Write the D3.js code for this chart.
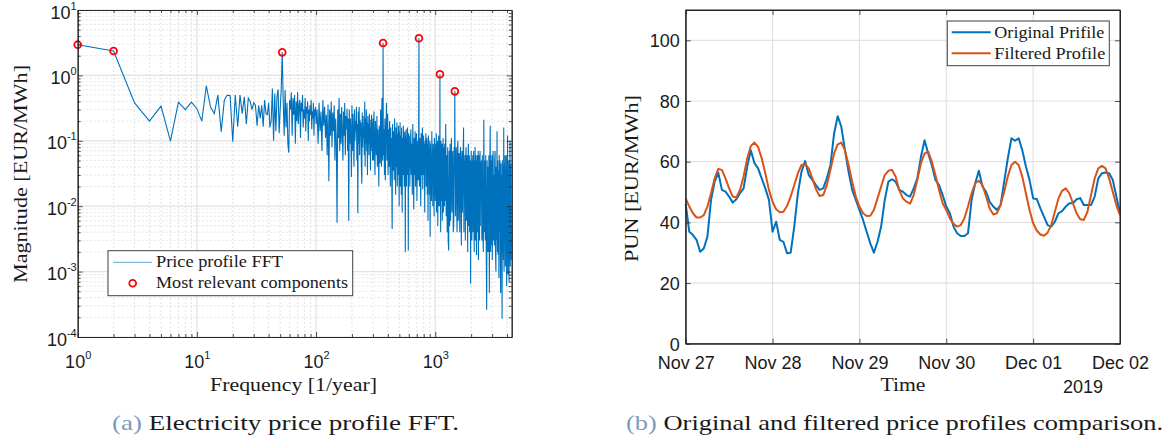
<!DOCTYPE html>
<html><head><meta charset="utf-8">
<script src="https://cdn.jsdelivr.net/npm/d3@7/dist/d3.min.js"></script>
<style>html,body{margin:0;padding:0;background:#fff;}svg{display:block;}</style>
</head><body>
<svg id="chart" width="1171" height="439"></svg>
<script>
// ---------- DATA ----------
// FFT magnitude (EUR/MWh) of the yearly hourly price profile.
// f = 1..100 (1/year), one value per integer frequency
const fftMagLow = [
2.95,2.36,0.38,0.20,0.34,0.099,0.39,0.30,0.39,0.31,
0.20,0.69,0.33,0.26,0.50,0.138,0.42,0.50,0.49,0.097,
0.50,0.164,0.50,0.26,0.47,0.18,0.45,0.40,0.30,0.38,
0.35,0.17,0.35,0.22,0.35,0.164,0.42,0.26,0.25,0.38,
0.16,0.20,0.63,0.10,0.53,0.14,0.47,0.61,0.13,0.30,
0.60,2.25,0.42,0.12,0.60,0.16,0.38,0.09,0.066,0.42,
0.30,0.55,0.12,0.45,0.25,0.50,0.09,0.40,0.20,0.55,
0.18,0.35,0.42,0.11,0.38,0.28,0.50,0.16,0.30,0.22,
0.45,0.14,0.33,0.26,0.40,0.10,0.30,0.20,0.35,0.25,
0.42,0.15,0.28,0.22,0.38,0.12,0.30,0.24,0.33,0.18];
// f = 102..300, every 2nd frequency
const fftMagBand2 = [
.30,.09,.38,.14,.28,.07,.42,.17,.33,.11,
.25,.06,.36,.024,.30,.12,.40,.08,.27,.14,
.35,.05,.22,.10,.0056,.30,.11,.45,.07,.26,
.09,.33,.13,.05,.28,.12,.38,.06,.24,.15,
.31,.07,.22,.006,.30,.09,.22,.13,.028,.35,
.07,.26,.11,.04,.30,.10,.20,.14,.33,.05,
.18,.0078,.28,.09,.33,.06,.21,.12,.19,.04,
.022,.27,.08,.24,.11,.17,.06,.40,.04,.22,
.09,.30,.07,.19,.03,.24,.10,.18,.06,.26,
.09,.21,.035,.16,.08,.25,.07,.19,.05,.22];
// f = 303..600, every 3rd frequency
const fftMagBand3 = [
.05,.28,.08,.03,.20,.10,.06,.24,.04,.15,
.09,.02,.17,.07,.045,.30,.12,.04,.45,.08,
.05,.20,.06,.15,.03,.22,.025,.11,.18,.38,
.05,.13,.26,.03,.09,.15,.04,.20,.07,.02,
.16,.05,.11,.02,.0045,.18,.06,.035,.14,.08,
.025,.22,.05,.12,.015,.16,.04,.09,.19,.02,
.07,.13,.03,.17,.06,.01,.14,.05,.19,.02,
.09,.12,.015,.16,.04,.008,.11,.06,.03,.17,
.05,.13,.02,.09,.14,.03,.002,.12,.05,.15,
.02,.08,.11,.03,.16,.04,.10,.0021,.13,.04];
// f = 606..1200, every 6th frequency
const fftMagBand6 = [
.12,.02,.07,.15,.03,.09,.015,.18,.05,.009,
.11,.03,.14,.02,.08,.13,.012,.06,.10,.025,
.16,.04,.02,.11,.05,.01,.13,.03,.08,.16,
.018,.07,.12,.03,.09,.008,.10,.04,.13,.02,
.07,.11,.015,.09,.006,.12,.03,.08,.015,.10,
.0034,.09,.02,.06,.012,.14,.03,.07,.01,.09,
.02,.08,.007,.11,.03,.06,.012,.09,.02,.13,
.008,.07,.03,.10,.005,.08,.02,.12,.01,.06,
.025,.09,.01,.07,.004,.10,.02,.06,.012,.09,
.006,.07,.02,.11,.008,.08,.015,.06,.01,.09];
// f = 1212..2400, every 12th frequency
const fftMagBand12 = [
.012,.18,.007,.06,.004,.08,.003,.0021,.07,.005,
.09,.006,.05,.11,.008,.04,.07,.004,.005,.08,
.03,.06,.007,.05,.08,.01,.004,.07,.10,.006,
.04,.065,.012,.004,.06,.08,.015,.0025,.05,.07,
.008,.03,.06,.16,.004,.05,.02,.06,.003,.045,
.08,.006,.03,.06,.012,.002,.05,.09,.005,.035,
.06,.004,.025,.05,.00066,.04,.07,.008,.003,.05,
.02,.06,.004,.035,.07,.006,.002,.05,.015,.08,
.003,.04,.06,.007,.0018,.05,.025,.06,.004,.03,
.07,.0015,.04,.012,.06,.003,.045,.07,.005,.03];
// f = 2436..4380, every 24th frequency
const fftMagBand24 = [
.05,.003,.06,.004,.002,.21,.004,.05,.003,.06,
.003,.00026,.05,.002,.04,.002,.06,.00047,.03,.17,
.002,.05,.0025,.06,.0015,.04,.07,.003,.03,.0025,
.05,.07,.002,.001,.04,.003,.14,.002,.05,.0018,
.035,.0008,.06,.004,.05,.0015,.00047,.045,.002,.03,
.00019,.05,.002,.04,.0015,.16,.001,.045,.003,.06,
.0012,.035,.005,.06,.0006,.04,.002,.12,.0009,.05,
.004,.035,.0007,.05,.003,.10,.0012,.04,.002,.045,
.0015,.005];
const fftBandStart = [1, 102, 303, 606, 1212, 2436];
const fftBandStep  = [1, 2, 3, 6, 12, 24];

// Most relevant components (1/year, EUR/MWh)
const relevantFreq = [1, 2, 52, 365, 730, 1095, 1460];
const relevantMag  = [2.95, 2.36, 2.25, 3.13, 3.69, 1.04, 0.57];
const fftDecadesX = [1, 10, 100, 1000];
const fftDecadesY = [1e-4, 1e-3, 1e-2, 1e-1, 1, 10];

// Hourly PUN profile, 27 Nov 2019 00:00 -> 2 Dec 2019 00:00
const profileStart = "2019-11-27T00:00:00Z";
const originalProfile = [
46.0,36.9,35.8,34.2,30.3,31.4,35.3,47.4,53.4,56.4,50.7,50.1,
48.5,46.5,47.6,49.6,51.2,58.4,63.8,59.5,57.8,54.5,51.2,47.4,
36.9,40.2,34.2,33.6,29.8,30.0,38.6,49.6,56.7,60.2,55.6,54.0,
52.3,50.7,51.2,54.5,58.9,69.3,75.0,71.5,63.8,56.7,50.7,47.4,
44.1,40.8,36.9,33.1,30.0,33.6,38.6,47.4,53.4,54.2,53.4,50.7,
50.1,49.0,48.5,51.2,54.5,61.6,67.1,62.7,58.9,54.0,52.3,49.0,
45.2,43.0,38.6,36.4,35.5,35.5,36.4,47.4,52.9,57.0,51.8,50.1,
46.8,45.2,44.1,45.7,53.4,61.1,67.7,66.9,67.7,63.8,58.4,54.0,
47.9,47.7,44.6,41.9,39.1,38.6,40.2,43.0,43.7,45.2,46.3,46.3,
47.6,48.0,45.7,45.7,45.7,48.5,54.5,56.2,56.4,56.2,54.0,48.5,
43.0];
const filteredProfile = [
47.9,45.2,43.0,41.6,41.6,42.4,45.2,49.6,54.5,57.6,57.3,54.5,
51.2,48.5,48.2,50.7,55.1,61.1,65.2,66.3,64.9,61.1,56.2,50.7,
46.8,44.3,43.3,43.5,45.4,48.5,52.3,56.2,58.9,59.2,57.8,54.5,
50.9,48.7,49.0,52.3,57.3,62.7,65.7,66.3,63.8,58.9,53.4,48.5,
45.2,43.0,42.1,42.2,44.1,47.9,51.8,55.6,57.0,57.3,55.1,50.7,
47.9,46.8,46.2,49.0,54.0,59.5,62.7,63.3,60.0,55.6,50.7,46.3,
44.1,41.3,39.5,38.6,39.1,41.3,45.2,49.6,52.9,53.7,52.3,48.5,
44.6,42.6,43.0,45.7,50.1,55.1,58.9,60.0,58.9,55.1,49.6,44.1,
39.7,37.3,36.0,35.6,36.6,39.1,43.5,47.9,50.4,51.2,49.6,46.3,
43.0,41.0,40.8,43.5,49.0,54.5,57.8,58.6,57.8,54.5,50.1,45.7,
42.4];
const dayTicks = ["2019-11-27","2019-11-28","2019-11-29","2019-11-30","2019-12-01","2019-12-02"];
const punTicks = [0, 20, 40, 60, 80, 100];

// ---------- assemble spectrum table ----------
const fftBands = [fftMagLow, fftMagBand2, fftMagBand3, fftMagBand6, fftMagBand12, fftMagBand24];
const specMap = new Map();
fftBands.forEach((arr, b) => arr.forEach((m, i) => specMap.set(fftBandStart[b] + i * fftBandStep[b], m)));
relevantFreq.forEach((f, i) => specMap.set(f, relevantMag[i]));
const fftSpectrum = Array.from(specMap.entries()).sort((a, b) => a[0] - b[0]);

// ---------- STYLE ----------
const BLUE = '#0072BD', ORANGE = '#D95319', AX = '#262626', TXT = '#1a1a1a';
const SANS = '"Liberation Sans", Arial, Helvetica, sans-serif';
const SERIF = '"Liberation Serif", "Times New Roman", serif';
const svg = d3.select('#chart');

function serifText(g, x, y, str, size, len, opts = {}) {
  const t = g.append('text').attr('x', x).attr('y', y)
    .attr('font-family', SERIF).attr('font-size', size).attr('fill', TXT)
    .attr('text-anchor', opts.anchor || 'start');
  if (opts.rotate) t.attr('transform', `rotate(-90,${x},${y})`);
  if (opts.prefix) t.append('tspan').attr('fill', '#7c9cbb').text(opts.prefix);
  t.append('tspan').text(str);
  if (len) t.attr('textLength', len).attr('lengthAdjust', 'spacingAndGlyphs');
  return t;
}
function styleAxis(g) {
  g.attr('font-family', SANS).attr('font-size', 18);
  g.selectAll('.domain').attr('stroke', AX).attr('stroke-width', 1);
  g.selectAll('.tick line').attr('stroke', AX).attr('stroke-width', 0.8);
  g.selectAll('.tick text').attr('fill', TXT);
}
function supLabel(sel, xAttr, yAttr, anchor) {
  sel.each(function(d) {
    const t = d3.select(this);
    const e = Math.round(Math.log10(d));
    t.text(null).attr('x', xAttr).attr('y', yAttr).attr('dy', null).attr('text-anchor', anchor);
    t.append('tspan').text('10');
    t.append('tspan').attr('dy', -9).attr('font-size', 11).text(e);
  });
}

// ================= LEFT: FFT =================
const L = {x0: 77.7, x1: 511.7, y0: 10, y1: 337};
const xL = d3.scaleLog().domain([1, 4380]).range([L.x0, L.x1]);
const yL = d3.scaleLog().domain([1e-4, 10]).range([L.y1, L.y0]);
const gL = svg.append('g');

const minorX = [];
fftDecadesX.forEach(d => { for (let k = 2; k <= 9; k++) if (k * d < 4380) minorX.push(k * d); });
const minorY = [];
fftDecadesY.slice(0, -1).forEach(d => { for (let k = 2; k <= 9; k++) minorY.push(k * d); });

gL.append('g').selectAll('line').data(minorX).join('line')
  .attr('x1', d => xL(d)).attr('x2', d => xL(d)).attr('y1', L.y0).attr('y2', L.y1)
  .attr('stroke', '#d2d2d2').attr('stroke-width', 0.6).attr('stroke-dasharray', '2,2');
gL.append('g').selectAll('line').data(minorY).join('line')
  .attr('y1', d => yL(d)).attr('y2', d => yL(d)).attr('x1', L.x0).attr('x2', L.x1)
  .attr('stroke', '#d2d2d2').attr('stroke-width', 0.6).attr('stroke-dasharray', '2,2');
gL.append('g').selectAll('line').data(fftDecadesX).join('line')
  .attr('x1', d => xL(d)).attr('x2', d => xL(d)).attr('y1', L.y0).attr('y2', L.y1)
  .attr('stroke', '#e2e2e2').attr('stroke-width', 1.2);
gL.append('g').selectAll('line').data(fftDecadesY).join('line')
  .attr('y1', d => yL(d)).attr('y2', d => yL(d)).attr('x1', L.x0).attr('x2', L.x1)
  .attr('stroke', '#e2e2e2').attr('stroke-width', 1.2);

svg.append('defs').append('clipPath').attr('id', 'clipL').append('rect')
  .attr('x', L.x0).attr('y', L.y0).attr('width', L.x1 - L.x0).attr('height', L.y1 - L.y0);

gL.append('path').datum(fftSpectrum).attr('clip-path', 'url(#clipL)')
  .attr('fill', 'none').attr('stroke', BLUE).attr('stroke-width', 1.1).attr('stroke-linejoin', 'miter')
  .attr('d', d3.line().x(d => xL(d[0])).y(d => yL(d[1])));

gL.append('g').selectAll('circle').data(relevantFreq).join('circle')
  .attr('cx', d => xL(d)).attr('cy', (d, i) => yL(relevantMag[i])).attr('r', 3.4)
  .attr('fill', 'none').attr('stroke', '#ff0000').attr('stroke-width', 1.8);

const axB = gL.append('g').attr('transform', `translate(0,${L.y1})`)
  .call(d3.axisBottom(xL).tickValues(fftDecadesX).tickSize(-5).tickSizeOuter(0).tickFormat(d => d));
styleAxis(axB); supLabel(axB.selectAll('.tick text'), 0, 31, 'middle');
const axBm = gL.append('g').attr('transform', `translate(0,${L.y1})`)
  .call(d3.axisBottom(xL).tickValues(minorX).tickSize(-3).tickSizeOuter(0).tickFormat(''));
styleAxis(axBm);
const axT = gL.append('g').attr('transform', `translate(0,${L.y0})`)
  .call(d3.axisTop(xL).tickValues(fftDecadesX).tickSize(-5).tickSizeOuter(0).tickFormat(''));
styleAxis(axT);
const axTm = gL.append('g').attr('transform', `translate(0,${L.y0})`)
  .call(d3.axisTop(xL).tickValues(minorX).tickSize(-3).tickSizeOuter(0).tickFormat(''));
styleAxis(axTm);
const axLf = gL.append('g').attr('transform', `translate(${L.x0},0)`)
  .call(d3.axisLeft(yL).tickValues(fftDecadesY).tickSize(-5).tickSizeOuter(0).tickFormat(d => d));
styleAxis(axLf); supLabel(axLf.selectAll('.tick text'), -1, 8, 'end');
const axLfm = gL.append('g').attr('transform', `translate(${L.x0},0)`)
  .call(d3.axisLeft(yL).tickValues(minorY).tickSize(-3).tickSizeOuter(0).tickFormat(''));
styleAxis(axLfm);
const axRt = gL.append('g').attr('transform', `translate(${L.x1},0)`)
  .call(d3.axisRight(yL).tickValues(fftDecadesY).tickSize(-5).tickSizeOuter(0).tickFormat(''));
styleAxis(axRt);
const axRtm = gL.append('g').attr('transform', `translate(${L.x1},0)`)
  .call(d3.axisRight(yL).tickValues(minorY).tickSize(-3).tickSizeOuter(0).tickFormat(''));
styleAxis(axRtm);

serifText(gL, 210, 391, 'Frequency [1/year]', 19, 167);
serifText(gL, 27, 283, 'Magnitude [EUR/MWh]', 19, 218, {rotate: true});

const lgL = gL.append('g');
lgL.append('rect').attr('x', 108).attr('y', 250.7).attr('width', 244.7).attr('height', 45)
  .attr('fill', '#fff').attr('stroke', '#404040').attr('stroke-width', 1);
lgL.append('line').attr('x1', 113).attr('x2', 152).attr('y1', 262.3).attr('y2', 262.3)
  .attr('stroke', BLUE).attr('stroke-width', 1).attr('stroke-opacity', 0.6);
lgL.append('circle').attr('cx', 132.7).attr('cy', 283.3).attr('r', 3.4)
  .attr('fill', 'none').attr('stroke', '#ff0000').attr('stroke-width', 1.8);
serifText(lgL, 156, 267, 'Price profile FFT', 17, 127);
serifText(lgL, 156, 287.5, 'Most relevant components', 17, 192);

serifText(svg, 112, 430, ' Electricity price profile FFT.', 21, 347, {prefix: '(a)'});

// ================= RIGHT: profiles =================
const R = {x0: 685.7, x1: 1120, y0: 10, y1: 343.7};
const tStart = new Date(profileStart);
const dayDates = dayTicks.map(s => new Date(s + 'T00:00:00Z'));
const xR = d3.scaleUtc().domain([dayDates[0], dayDates[dayDates.length - 1]]).range([R.x0, R.x1]);
const yR = d3.scaleLinear().domain([0, 110]).range([R.y1, R.y0]);
const gR = svg.append('g');

gR.append('g').selectAll('line').data(dayDates).join('line')
  .attr('x1', d => xR(d)).attr('x2', d => xR(d)).attr('y1', R.y0).attr('y2', R.y1)
  .attr('stroke', '#e2e2e2').attr('stroke-width', 1.2);
gR.append('g').selectAll('line').data(punTicks).join('line')
  .attr('y1', d => yR(d)).attr('y2', d => yR(d)).attr('x1', R.x0).attr('x2', R.x1)
  .attr('stroke', '#e2e2e2').attr('stroke-width', 1.2);

const hourTime = i => new Date(tStart.getTime() + i * 3600e3);
const lineR = d3.line().x((d, i) => xR(hourTime(i))).y(d => yR(d));
gR.append('path').datum(originalProfile).attr('fill', 'none').attr('stroke', BLUE)
  .attr('stroke-width', 2).attr('stroke-linejoin', 'round').attr('d', lineR);
gR.append('path').datum(filteredProfile).attr('fill', 'none').attr('stroke', ORANGE)
  .attr('stroke-width', 2).attr('stroke-linejoin', 'round').attr('d', lineR);

const fmtDay = d3.utcFormat('%b %d');
const rB = gR.append('g').attr('transform', `translate(0,${R.y1})`)
  .call(d3.axisBottom(xR).tickValues(dayDates).tickSize(-5).tickSizeOuter(0).tickFormat(fmtDay));
styleAxis(rB); rB.selectAll('.tick text').attr('y', 25).attr('dy', null);
const rT = gR.append('g').attr('transform', `translate(0,${R.y0})`)
  .call(d3.axisTop(xR).tickValues(dayDates).tickSize(-5).tickSizeOuter(0).tickFormat(''));
styleAxis(rT);
const rL = gR.append('g').attr('transform', `translate(${R.x0},0)`)
  .call(d3.axisLeft(yR).tickValues(punTicks).tickSize(-5).tickSizeOuter(0));
styleAxis(rL); rL.selectAll('.tick text').attr('x', -6).attr('dy', '0.35em');
const rR = gR.append('g').attr('transform', `translate(${R.x1},0)`)
  .call(d3.axisRight(yR).tickValues(punTicks).tickSize(-5).tickSizeOuter(0).tickFormat(''));
styleAxis(rR);
gR.append('rect').attr('x', R.x0).attr('y', R.y0).attr('width', R.x1 - R.x0).attr('height', R.y1 - R.y0)
  .attr('fill', 'none').attr('stroke', AX).attr('stroke-width', 1);

gR.append('text').attr('x', 1083).attr('y', 393).attr('text-anchor', 'middle')
  .attr('font-family', SANS).attr('font-size', 18).attr('fill', TXT).text('2019');
serifText(gR, 903, 391, 'Time', 19, 45, {anchor: 'middle'});
serifText(gR, 638, 262, 'PUN [EUR/MWh]', 19, 167, {rotate: true});

const lgR = gR.append('g');
lgR.append('rect').attr('x', 947.3).attr('y', 21).attr('width', 162).attr('height', 44.7)
  .attr('fill', '#fff').attr('stroke', '#404040').attr('stroke-width', 1);
lgR.append('line').attr('x1', 951.7).attr('x2', 990.7).attr('y1', 32.3).attr('y2', 32.3)
  .attr('stroke', BLUE).attr('stroke-width', 2);
lgR.append('line').attr('x1', 951.7).attr('x2', 990.7).attr('y1', 53.3).attr('y2', 53.3)
  .attr('stroke', ORANGE).attr('stroke-width', 2);
serifText(lgR, 994.3, 37.5, 'Original Prifile', 17, 110);
serifText(lgR, 994.3, 58.5, 'Filtered Profile', 17, 111);

serifText(svg, 626, 430, ' Original and filtered price profiles comparison.', 21, 537, {prefix: '(b)'});
</script>
</body></html>
